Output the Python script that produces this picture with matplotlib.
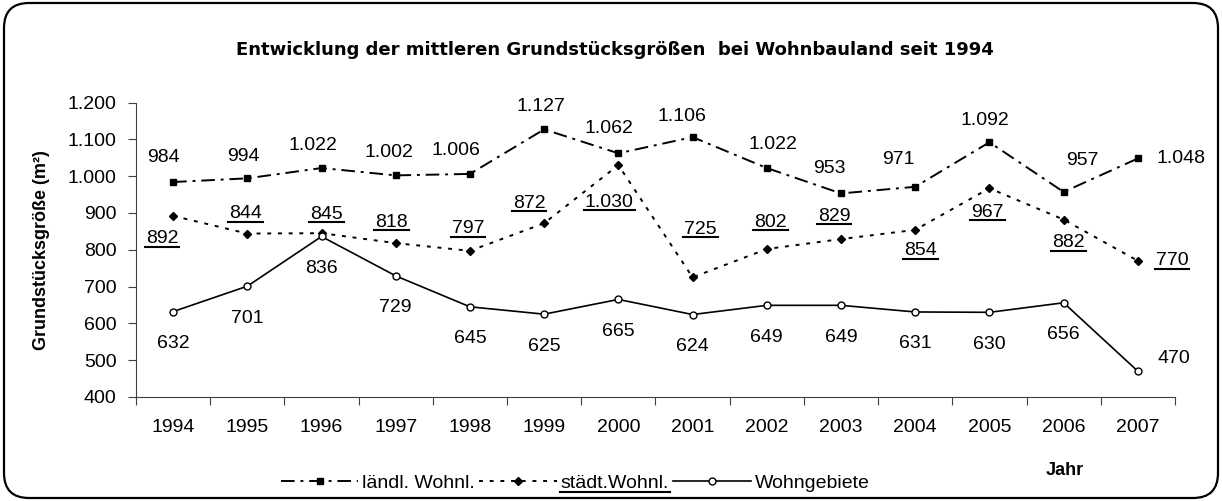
import matplotlib
matplotlib.use("Agg")
import matplotlib.pyplot as plt
from matplotlib.lines import Line2D
from matplotlib.patches import FancyBboxPatch
from matplotlib.transforms import IdentityTransform

plt.rcParams["font.family"] = ["Liberation Sans", "DejaVu Sans"]

# data
years = ["1994", "1995", "1996", "1997", "1998", "1999", "2000",
         "2001", "2002", "2003", "2004", "2005", "2006", "2007"]
rural = [984, 994, 1022, 1002, 1006, 1127, 1062, 1106, 1022, 953, 971, 1092, 957, 1048]
urban = [892, 844, 845, 818, 797, 872, 1030, 725, 802, 829, 854, 967, 882, 770]
resid = [632, 701, 836, 729, 645, 625, 665, 624, 649, 649, 631, 630, 656, 470]
series_names = ["ländl. Wohnl.", "städt.Wohnl.", "Wohngebiete"]
y_ticks = [400, 500, 600, 700, 800, 900, 1000, 1100, 1200]

# label offsets in pixels (dx right, dy down)
rural_off = [(-10, -25), (-4, -22), (-9, -23), (-7, -23), (-14, -23), (-3, -23), (-9, -25),
             (-11, -21), (6, -24), (-12, -25), (-17, -27), (-5, -22), (19, -31), (43, 0)]
urban_off = [(-11, 23), (-2, -20), (5, -19), (-4, -21), (-2, -22), (-15, -20), (-9, 37),
             (8, -48), (4, -27), (-7, -23), (5, 21), (-2, 24), (5, 23), (34, 0)]
resid_off = [(0, 32)] * 13 + [(36, -13)]


def fmt(v):
    return f"{v:,}".replace(",", ".")


fig = plt.figure(figsize=(12.22, 5.01), dpi=100)
ax = fig.add_axes([0.1113, 0.2076, 0.8502, 0.5878])

x = list(range(len(years)))
l1, = ax.plot(x, rural, color="black", lw=1.4, dashes=(7, 3, 1.5, 3),
              marker="s", ms=5, label=series_names[0])
l2, = ax.plot(x, urban, color="black", lw=1.4, dashes=(2, 3.5),
              marker="D", ms=4.5, label=series_names[1])
l3, = ax.plot(x, resid, color="black", lw=1.2, marker="o", ms=5,
              mfc="white", mew=1, label=series_names[2])

ax.set_xlim(-0.5, len(years) - 0.5)
ax.set_ylim(400, 1200)
ax.set_yticks(y_ticks)
ax.set_yticklabels([fmt(v) for v in y_ticks])
ax.set_xticks([i - 0.5 for i in range(len(years) + 1)])
ax.set_xticklabels([])
ax.set_xticks(x, minor=True)
ax.set_xticklabels(years, minor=True)
ax.tick_params(axis="x", which="major", length=6, color="#404040")
ax.tick_params(axis="x", which="minor", length=0, pad=16, labelsize=14)
ax.tick_params(axis="y", length=6, color="#404040", pad=8, labelsize=14)
for s in ["top", "right"]:
    ax.spines[s].set_visible(False)
for s in ["left", "bottom"]:
    ax.spines[s].set_color("#404040")

underlined = []
for vals, offs, ul in [(rural, rural_off, False), (urban, urban_off, True), (resid, resid_off, False)]:
    for i, (v, (dx, dy)) in enumerate(zip(vals, offs)):
        t = ax.annotate(fmt(v), (i, v), xytext=(dx, -dy), textcoords="offset pixels",
                        ha="center", va="center", fontsize=14)
        if ul:
            underlined.append(t)

fig.text(0.503, 0.9, "Entwicklung der mittleren Grundstücksgrößen  bei Wohnbauland seit 1994",
         ha="center", va="center", fontsize=13, fontweight="bold", family="DejaVu Sans")
fig.text(0.034, 0.5, "Grundstücksgröße (m²)", rotation=90, ha="center", va="center",
         fontsize=13, fontweight="bold")
fig.text(0.8715, 0.06, "Jahr", ha="center", va="center", fontsize=13, fontweight="bold")

leg = fig.legend(handles=[l1, l2, l3], loc="center", bbox_to_anchor=(0.4706, 0.035),
                 ncol=3, frameon=False, fontsize=14, handlelength=4.0,
                 handletextpad=0.2, columnspacing=0.2)
underlined.append(leg.get_texts()[1])

border = FancyBboxPatch((4, 3), 1214, 495, boxstyle="round,pad=0,rounding_size=25",
                        transform=IdentityTransform(), fill=False, ec="black", lw=1.6)
fig.add_artist(border)

fig.canvas.draw()
r = fig.canvas.get_renderer()
for t in underlined:
    bb = t.get_window_extent(r)
    fig.add_artist(Line2D([bb.x0 - 1, bb.x1 + 1], [bb.y0 + 0.5, bb.y0 + 0.5],
                          transform=IdentityTransform(), color="black", lw=1.5))

fig.savefig("out.png", dpi=100)
